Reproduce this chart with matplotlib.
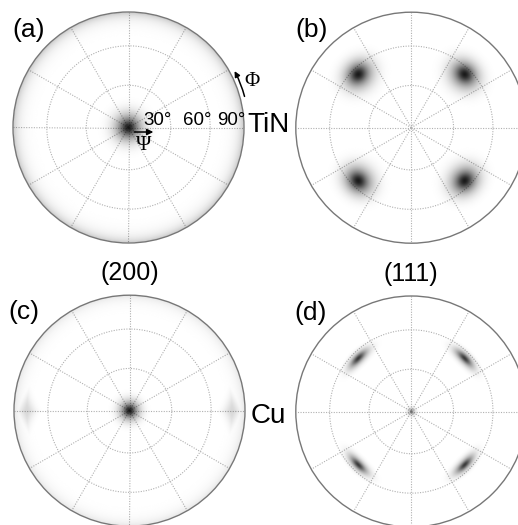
import numpy as np
import matplotlib.pyplot as plt
from matplotlib.colors import LinearSegmentedColormap
from matplotlib.patches import Circle, FancyArrowPatch

plt.rcParams["font.family"] = ["Liberation Sans", "DejaVu Sans"]

# pole figure data: tilt psi and azimuth phi of each texture pole (deg),
# peak intensity (0 = none, 1 = black) and angular spread (deg)
tin200_psi = [0]
tin200_phi = [0]
tin200_peak = [0.88]
tin111_psi = [55, 55, 55, 55]
tin111_phi = [45, 135, 225, 315]
tin111_peak = [0.9, 0.9, 0.9, 0.9]
cu200_psi = [0, 78, 78]
cu200_phi = [0, 0, 180]
cu200_peak = [0.88, 0.16, 0.16]
cu111_psi = [0, 55, 55, 55, 55]
cu111_phi = [0, 45, 135, 225, 315]
cu111_peak = [0.4, 0.78, 0.78, 0.78, 0.78]

# background ring of intensity at the rim (psi -> 90 deg)
rim_peak = {"a": 0.22, "b": 0.0, "c": 0.1, "d": 0.0}

ring_psi = [30, 60]
spoke_phi = np.arange(0, 360, 30)

W, H = 518, 525
R = 115.5
PAD = 1.12
ink = LinearSegmentedColormap.from_list("ink", [(0, 0, 0, 0), (0, 0, 0, 1)])
grid_kw = dict(color="#b0b0b0", lw=0.8, ls=(0, (1, 1.3)), zorder=1)


def eqarea(psi):
    # Lambert equal-area radius on the unit disc
    return np.sqrt(2) * np.sin(np.radians(psi) / 2)


n = 501
g = np.linspace(-1, 1, n)
X, Y = np.meshgrid(g, g)
Rr = np.hypot(X, Y)
inside = Rr <= 1.0
PSI = 2 * np.arcsin(np.clip(Rr, 0, 1) / np.sqrt(2))
PHI = np.arctan2(Y, X)
V = np.stack([np.sin(PSI) * np.cos(PHI), np.sin(PSI) * np.sin(PHI), np.cos(PSI)])


def pole(psi0, phi0, s_rad, s_tan, diamond=False):
    p, f = np.radians(psi0), np.radians(phi0)
    nrm = np.array([np.sin(p) * np.cos(f), np.sin(p) * np.sin(f), np.cos(p)])
    e_psi = np.array([np.cos(p) * np.cos(f), np.cos(p) * np.sin(f), -np.sin(p)])
    e_phi = np.array([-np.sin(f), np.cos(f), 0.0])
    a = np.tensordot(e_psi, V, 1)
    b = np.tensordot(e_phi, V, 1)
    c = np.tensordot(nrm, V, 1)
    sr, st = np.radians(s_rad), np.radians(s_tan)
    if diamond:
        val = np.exp(-(np.abs(a) / sr + np.abs(b) / st) ** 2)
    else:
        # sharp core on a broad halo
        q = a ** 2 / (2 * sr ** 2) + b ** 2 / (2 * st ** 2)
        val = 0.35 * np.exp(-4 * q) + 0.65 * np.exp(-q)
    return np.where(c > 0, val, 0.0)


def density(psis, phis, peaks, widths, rim, diamond_from=None):
    img = np.zeros_like(X)
    for i, (ps, ph, pk) in enumerate(zip(psis, phis, peaks)):
        sr, st = widths[i]
        dia = diamond_from is not None and i >= diamond_from
        img = np.maximum(img, pk * pole(ps, ph, sr, st, dia))
    if rim > 0:
        img = np.maximum(img, rim * np.exp(-(90 - np.degrees(PSI)) / 5.5))
    return np.where(inside, img, np.nan)


def make_axes(fig, cx, cy):
    ax = fig.add_axes([(cx - PAD * R) / W, 1 - (cy + PAD * R) / H,
                       2 * PAD * R / W, 2 * PAD * R / H])
    ax.set_xlim(-PAD, PAD)
    ax.set_ylim(-PAD, PAD)
    ax.set_aspect("equal")
    ax.axis("off")
    return ax


def draw_net(ax, img):
    t = np.linspace(0, 2 * np.pi, 400)
    for ps in ring_psi:
        rr = eqarea(ps)
        ax.plot(rr * np.cos(t), rr * np.sin(t), **grid_kw)
    for ph in spoke_phi:
        a = np.radians(ph)
        ax.plot([0, np.cos(a)], [0, np.sin(a)], **grid_kw)
    im = ax.imshow(img, extent=[-1, 1, -1, 1], origin="lower", cmap=ink,
                   vmin=0, vmax=1, interpolation="bilinear", zorder=2)
    clip = Circle((0, 0), 1, transform=ax.transData)
    im.set_clip_path(clip)
    ax.add_patch(Circle((0, 0), 1, fill=False, ec="#777777", lw=1.0, zorder=3))


fig = plt.figure(figsize=(W / 100, H / 100), dpi=100)

centres = {"a": (128.5, 127.5), "b": (411.3, 127.7),
           "c": (129.5, 410.7), "d": (411.3, 411.5)}

axa = make_axes(fig, *centres["a"])
draw_net(axa, density(tin200_psi, tin200_phi, tin200_peak, [(7.0, 7.0)], rim_peak["a"]))

axb = make_axes(fig, *centres["b"])
draw_net(axb, density(tin111_psi, tin111_phi, tin111_peak, [(7.5, 6.8)] * 4, rim_peak["b"]))

axc = make_axes(fig, *centres["c"])
draw_net(axc, density(cu200_psi, cu200_phi, cu200_peak,
                      [(5.0, 5.0), (7.5, 9.0), (7.5, 9.0)], rim_peak["c"], diamond_from=1))

axd = make_axes(fig, *centres["d"])
draw_net(axd, density(cu111_psi, cu111_phi, cu111_peak,
                      [(2.0, 2.0)] + [(2.8, 6.0)] * 4, rim_peak["d"]))

# angle scale and rotation sense in (a)
for ps in [30, 60, 90]:
    axa.text(eqarea(ps) + 0.01, 0.025, f"{ps}°", ha="right", va="baseline",
             fontsize=13.5, zorder=5)
axa.annotate("", xy=(0.215, -0.039), xytext=(0.05, -0.039),
             arrowprops=dict(arrowstyle="-|>", color="k", lw=1.1,
                             mutation_scale=9, shrinkA=0, shrinkB=0), zorder=5)
axa.text(0.134, -0.152, "Ψ", family=["Liberation Serif", "DejaVu Serif"],
         fontsize=15, ha="center", va="center", zorder=5)
a0, a1 = np.radians(15), np.radians(28)
axa.add_patch(FancyArrowPatch((1.04 * np.cos(a0), 1.04 * np.sin(a0)),
                              (1.04 * np.cos(a1), 1.04 * np.sin(a1)),
                              connectionstyle="arc3,rad=0.06", arrowstyle="-|>",
                              mutation_scale=8, lw=1.1, color="k",
                              shrinkA=0, shrinkB=0, clip_on=False, zorder=5))
axa.text(1.0, 0.40, "Φ", family=["Liberation Serif", "DejaVu Serif"],
         fontsize=15, ha="left", va="center", zorder=5)


def ftext(px, py, s, **kw):
    fig.text(px / W, 1 - py / H, s, **kw)


ftext(12, 37, "(a)", fontsize=19, va="baseline")
ftext(295, 37, "(b)", fontsize=19, va="baseline")
ftext(8, 319, "(c)", fontsize=19, va="baseline")
ftext(294, 320, "(d)", fontsize=19, va="baseline")
ftext(130, 280, "(200)", fontsize=18, ha="center", va="baseline")
ftext(411, 281, "(111)", fontsize=18, ha="center", va="baseline")
ftext(247, 132, "TiN", fontsize=20, va="baseline")
ftext(251, 423, "Cu", fontsize=20, va="baseline")

fig.savefig("out.png", dpi=100)
